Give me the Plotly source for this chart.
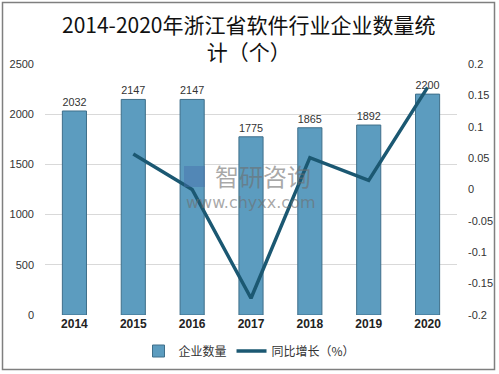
import plotly.graph_objects as go

years = ["2014", "2015", "2016", "2017", "2018", "2019", "2020"]
counts = [2032, 2147, 2147, 1775, 1865, 1892, 2200]
growth_years = ["2015", "2016", "2017", "2018", "2019", "2020"]
growth = [0.0566, 0.0, -0.1733, 0.0507, 0.0145, 0.1628]

left_ticks = [0, 500, 1000, 1500, 2000, 2500]
right_ticks = [-0.2, -0.15, -0.1, -0.05, 0, 0.05, 0.1, 0.15, 0.2]
right_labels = ["-0.2", "-0.15", "-0.1", "-0.05", "0", "0.05", "0.1", "0.15", "0.2"]

font_cn = "Noto Sans CJK SC"

W, H = 499, 374
L, R, T, B = 45, 42, 64, 59
pw, ph = W - L - R, H - T - B


def px_x(x):
    return (x - L) / pw


def px_y(y):
    return (H - B - y) / ph


fig = go.Figure()
fig.add_trace(go.Bar(
    x=years, y=counts, name="企业数量",
    marker=dict(color="#5c9cbf", line=dict(color="#3f6f8a", width=1)),
    text=[str(v) for v in counts], textposition="outside",
    textfont=dict(size=11, color="#333333", family="Liberation Sans"),
    cliponaxis=False,
))
fig.add_trace(go.Scatter(
    x=growth_years, y=growth, name="同比增长（%）", yaxis="y2",
    mode="lines", line=dict(color="#1b5872", width=3.5),
))

fig.update_layout(
    width=W, height=H,
    margin=dict(l=L, r=R, t=T, b=B, autoexpand=False),
    paper_bgcolor="white", plot_bgcolor="white",
    bargap=0.59,
    showlegend=True,
    legend=dict(
        orientation="h", x=0.5, xanchor="center", xref="container",
        y=(H - 351) / H, yanchor="middle", yref="container",
        font=dict(family=font_cn, size=12, color="#333333"),
        itemwidth=30, tracegroupgap=0,
    ),
    xaxis=dict(
        type="category", showgrid=False, showline=False, ticks="",
        tickfont=dict(family="Liberation Sans", size=12, color="#222222", weight="bold"),
    ),
    yaxis=dict(
        range=[0, 2500], tickvals=left_ticks, showgrid=True, gridcolor="#d9d9d9",
        gridwidth=1, zeroline=False, showline=False,
        tickfont=dict(family="Liberation Sans", size=11, color="#333333"),
        ticks="", ticklabelstandoff=10,
    ),
    yaxis2=dict(
        range=[-0.2, 0.2], tickvals=right_ticks, ticktext=right_labels,
        overlaying="y", side="right", showgrid=False, zeroline=False, showline=False,
        tickfont=dict(family="Liberation Sans", size=11, color="#333333"),
        ticks="", ticklabelstandoff=10,
    ),
    shapes=[
        dict(
            type="rect", xref="paper", yref="paper",
            x0=px_x(2.5), x1=px_x(494.5), y0=px_y(369.5), y1=px_y(2.5),
            line=dict(color="#7f7f7f", width=1.5), fillcolor="rgba(0,0,0,0)",
            layer="above",
        ),
        dict(
            type="rect", xref="paper", yref="paper",
            x0=px_x(184), x1=px_x(205), y0=px_y(187), y1=px_y(166),
            line=dict(width=0), fillcolor="rgba(70,110,170,0.45)",
            layer="above",
        ),
    ],
    annotations=[
        dict(text="2014-2020年浙江省软件行业企业数量统<br>计（个）",
             xref="paper", yref="paper", x=px_x(249), y=px_y(37.5),
             xanchor="center", yanchor="middle", showarrow=False,
             font=dict(family=font_cn, size=21, color="#111111")),
        dict(text="智研咨询", xref="paper", yref="paper", x=px_x(263), y=px_y(175),
             showarrow=False,
             font=dict(family=font_cn, size=24, color="rgba(110,110,110,0.6)")),
        dict(text="www.chyxx.com", xref="paper", yref="paper", x=px_x(250), y=px_y(202),
             showarrow=False,
             font=dict(family="DejaVu Sans", size=16, color="rgba(110,110,110,0.6)")),
    ],
)

fig.write_html("out.html", config={"displayModeBar": False},
               post_script="document.body.style.margin='0';")
